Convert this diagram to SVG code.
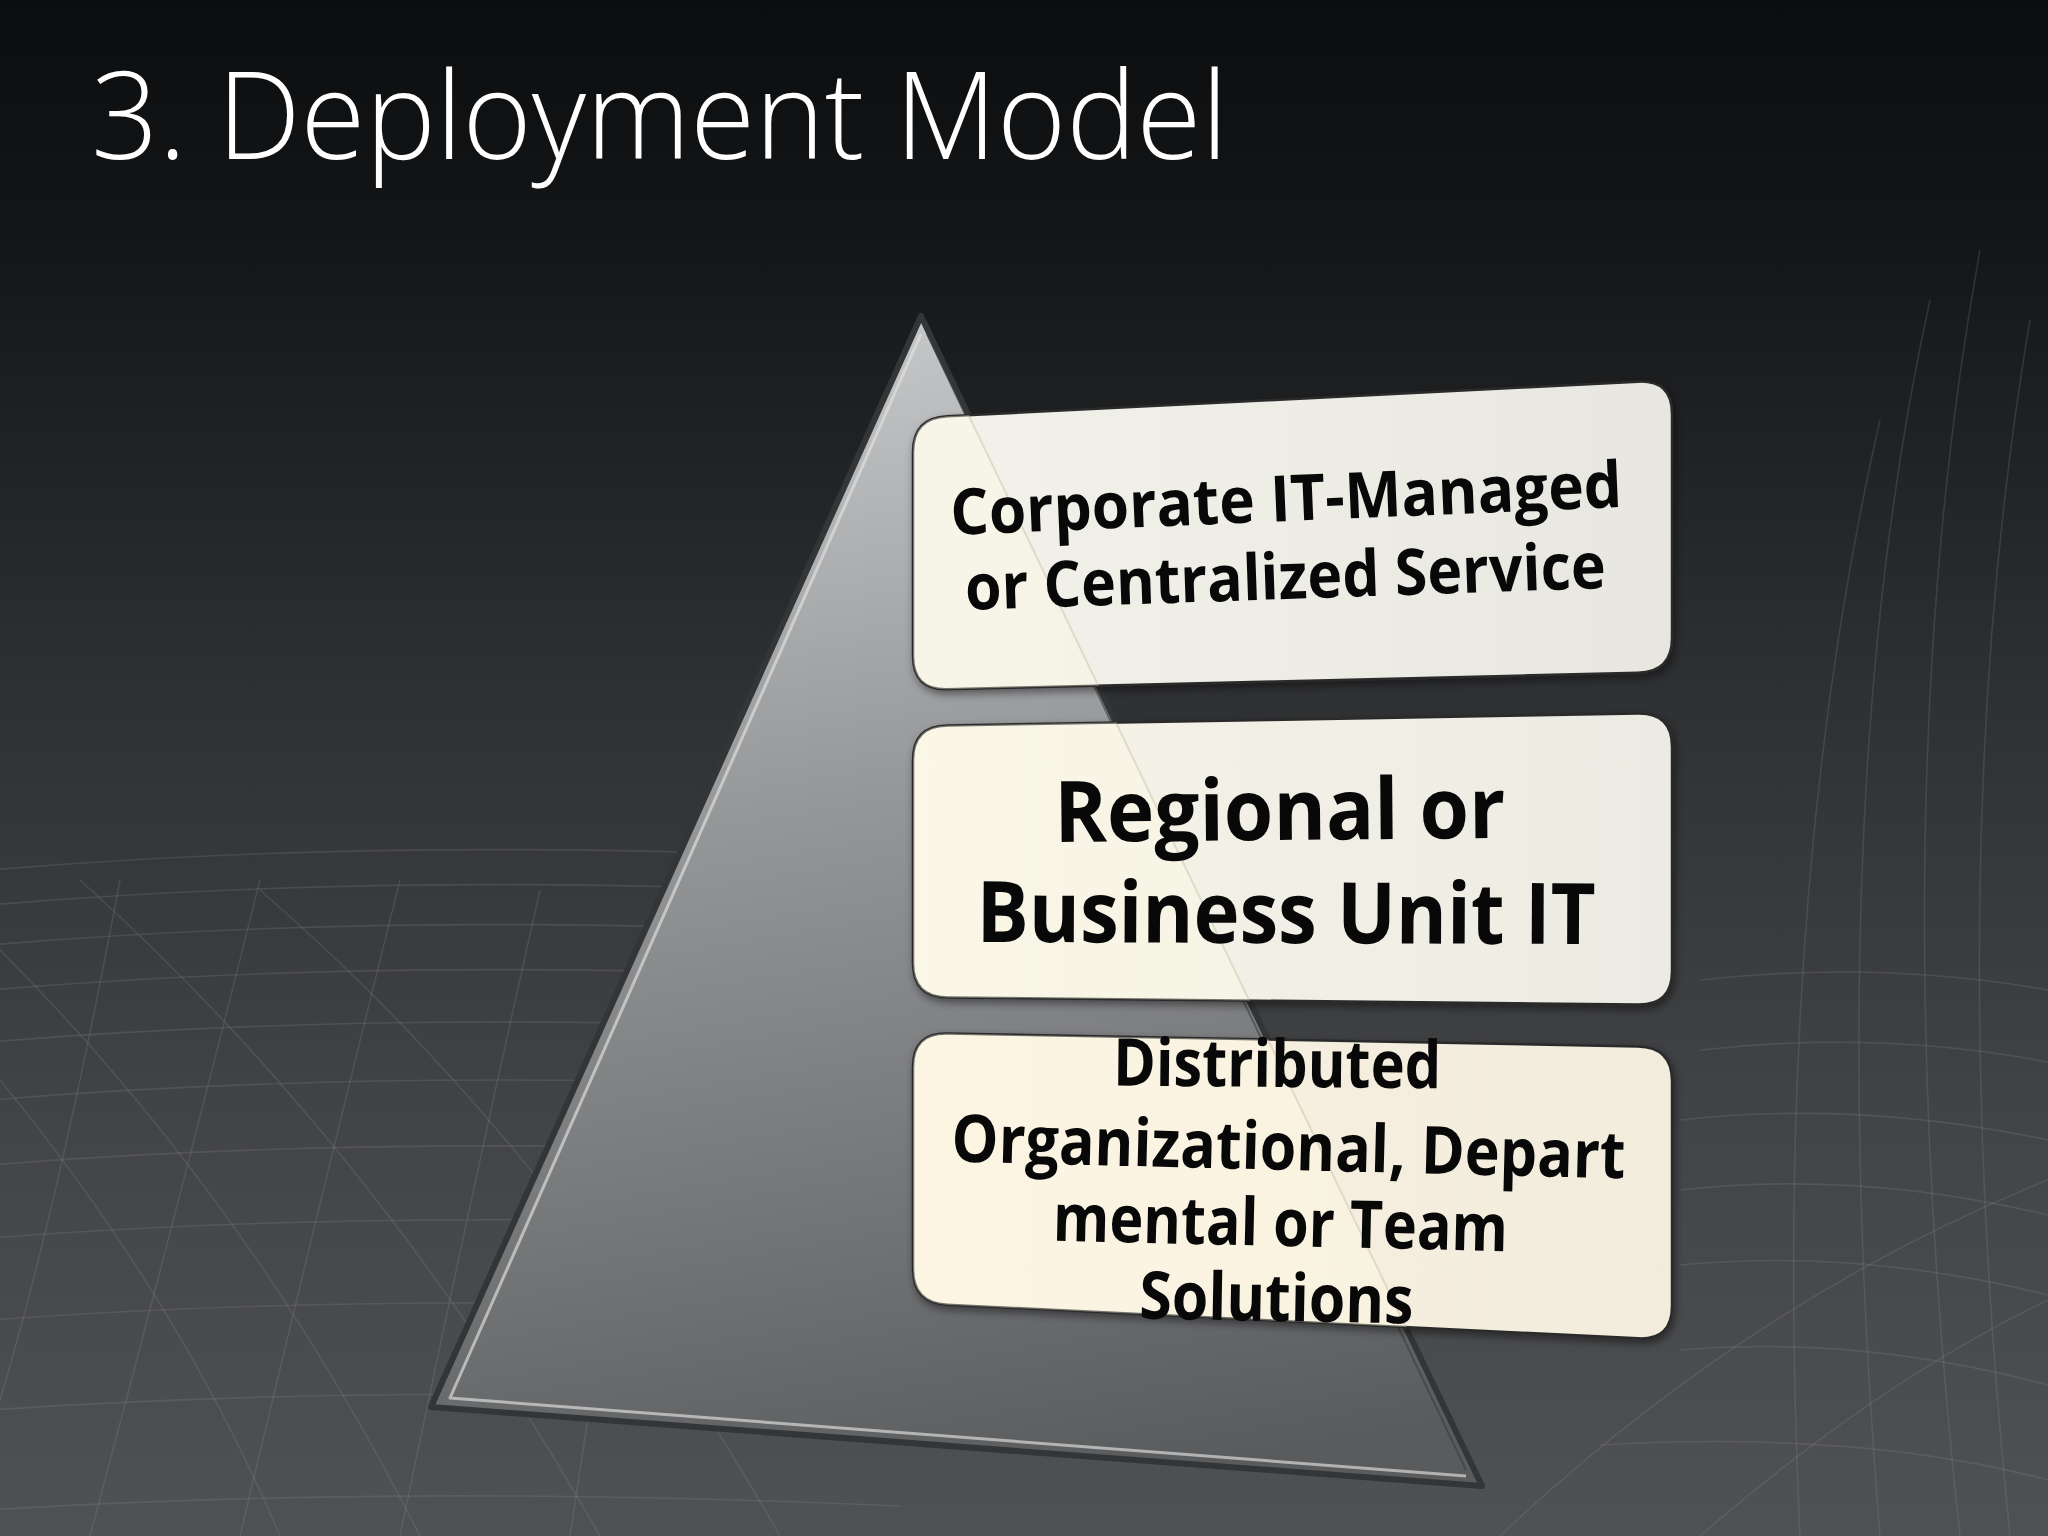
<svg xmlns="http://www.w3.org/2000/svg" width="2048" height="1536" viewBox="0 0 2048 1536">
<defs>
<linearGradient id="bg" x1="0" y1="0" x2="0" y2="1">
<stop offset="0" stop-color="#0c0d0e"/>
<stop offset="0.15" stop-color="#141516"/>
<stop offset="0.45" stop-color="#2f3032"/>
<stop offset="0.75" stop-color="#444547"/>
<stop offset="1" stop-color="#505153"/>
</linearGradient>
<linearGradient id="tri" x1="0.45" y1="0" x2="0.6" y2="1">
<stop offset="0" stop-color="#c6c7c9"/>
<stop offset="0.4" stop-color="#959698"/>
<stop offset="1" stop-color="#5a5b5d"/>
</linearGradient>
<linearGradient id="b1" x1="0" y1="0" x2="1" y2="0">
<stop offset="0" stop-color="#f3f2ea"/>
<stop offset="1" stop-color="#e7e6e0"/>
</linearGradient>
<linearGradient id="b2" x1="0" y1="0" x2="1" y2="0">
<stop offset="0" stop-color="#f7f4e8"/>
<stop offset="1" stop-color="#ecebe3"/>
</linearGradient>
<linearGradient id="b3" x1="0" y1="0" x2="1" y2="0">
<stop offset="0" stop-color="#fbf1e1"/>
<stop offset="1" stop-color="#f1ecdc"/>
</linearGradient>
<clipPath id="boxclip">
<path d="M 913,452 Q 913,418 947,416.3 L 1638,381.7 Q 1672,380 1672,414 L 1672,638 Q 1672,672 1638,672.8 L 947,689.2 Q 913,690 913,656 Z"/>
<path d="M 913,760 Q 913,726 947,725.4 L 1638,713.6 Q 1672,713 1672,747 L 1672,971 Q 1672,1005 1638,1004.6 L 947,997.4 Q 913,997 913,963 Z"/>
<path d="M 913,1067 Q 913,1033 947,1033.6 L 1638,1046.4 Q 1672,1047 1672,1081 L 1672,1306 Q 1672,1340 1638,1338.3 L 947,1304.7 Q 913,1303 913,1269 Z"/>
</clipPath>
<filter id="sh" x="-10%" y="-10%" width="120%" height="130%">
<feDropShadow dx="2" dy="4" stdDeviation="4" flood-color="#000" flood-opacity="0.45"/>
</filter>
</defs>
<style>
.mesh{fill:none;stroke:#8c8d8f;stroke-width:1.6;opacity:0.22}
.box{stroke:#2b2b2b;stroke-width:2.5}
.t{font-family:"Open Sans","Liberation Sans",sans-serif;font-weight:700;fill:#080808;text-anchor:middle}
.t1{font-size:64px}
.t2{font-size:85px}
.t3{font-size:66px}
</style>
<rect width="2048" height="1536" fill="url(#bg)"/>
<g id="mesh">
<path class="mesh" d="M -10,870 Q 400,835 900,860"/>
<path class="mesh" d="M -10,905 Q 400,870 900,895"/>
<path class="mesh" d="M -10,945 Q 400,910 900,935"/>
<path class="mesh" d="M -10,990 Q 400,955 900,980"/>
<path class="mesh" d="M -10,1042 Q 400,1008 900,1032"/>
<path class="mesh" d="M -10,1100 Q 400,1066 900,1090"/>
<path class="mesh" d="M -10,1165 Q 400,1132 900,1156"/>
<path class="mesh" d="M -10,1238 Q 400,1206 900,1230"/>
<path class="mesh" d="M -10,1320 Q 400,1290 900,1312"/>
<path class="mesh" d="M -10,1410 Q 400,1382 900,1404"/>
<path class="mesh" d="M -10,1510 Q 400,1484 900,1506"/>
<path class="mesh" d="M 120,880 Q 60,1200 0,1400"/>
<path class="mesh" d="M 260,880 Q 180,1200 90,1536"/>
<path class="mesh" d="M 400,880 Q 320,1200 240,1536"/>
<path class="mesh" d="M 540,890 Q 470,1200 400,1536"/>
<path class="mesh" d="M 680,900 Q 620,1200 570,1536"/>
<path class="mesh" d="M 0,950 Q 250,1200 420,1536"/>
<path class="mesh" d="M 0,1080 Q 180,1300 280,1536"/>
<path class="mesh" d="M 80,880 Q 380,1150 600,1536"/>
<path class="mesh" d="M 260,890 Q 560,1150 780,1536"/>
<path class="mesh" d="M 1980,250 Q 1880,800 1960,1536"/>
<path class="mesh" d="M 2030,320 Q 1940,850 2010,1536"/>
<path class="mesh" d="M 1930,300 Q 1820,800 1880,1536"/>
<path class="mesh" d="M 1880,420 Q 1770,900 1800,1536"/>
<path class="mesh" d="M 1680,1120 Q 1860,1100 2048,1140"/>
<path class="mesh" d="M 1680,1190 Q 1860,1170 2048,1215"/>
<path class="mesh" d="M 1680,1265 Q 1860,1248 2048,1295"/>
<path class="mesh" d="M 1680,1350 Q 1860,1335 2048,1385"/>
<path class="mesh" d="M 1600,1445 Q 1860,1430 2048,1480"/>
<path class="mesh" d="M 1700,980 Q 1880,960 2048,990"/>
<path class="mesh" d="M 1700,1050 Q 1880,1030 2048,1062"/>
<path class="mesh" d="M 1500,1536 Q 1750,1300 2048,1180"/>
<path class="mesh" d="M 1700,1536 Q 1880,1380 2048,1300"/>
</g>
<g id="pyramid">
<polygon points="921,316 431,1407 1482,1486" fill="url(#tri)" stroke="#343536" stroke-width="6" stroke-linejoin="round"/>
<polyline points="921,334 450,1398 1466,1476" fill="none" stroke="#e2e2e2" stroke-width="3" opacity="0.65" stroke-linejoin="round"/>
<line x1="927" y1="334" x2="1466" y2="1470" stroke="#3c3d3e" stroke-width="2" opacity="0.6"/>
</g>
<g id="connectors"></g>
<g id="node-corporate" filter="url(#sh)">
<path class="box" fill="url(#b1)" d="M 913,452 Q 913,418 947,416.3 L 1638,381.7 Q 1672,380 1672,414 L 1672,638 Q 1672,672 1638,672.8 L 947,689.2 Q 913,690 913,656 Z"/>
</g>
<g id="node-regional" filter="url(#sh)">
<path class="box" fill="url(#b2)" d="M 913,760 Q 913,726 947,725.4 L 1638,713.6 Q 1672,713 1672,747 L 1672,971 Q 1672,1005 1638,1004.6 L 947,997.4 Q 913,997 913,963 Z"/>
</g>
<g id="node-distributed" filter="url(#sh)">
<path class="box" fill="url(#b3)" d="M 913,1067 Q 913,1033 947,1033.6 L 1638,1046.4 Q 1672,1047 1672,1081 L 1672,1306 Q 1672,1340 1638,1338.3 L 947,1304.7 Q 913,1303 913,1269 Z"/>
</g>
<g id="reflection" clip-path="url(#boxclip)">
<polygon points="921,316 431,1407 1482,1486" fill="#fffbe6" opacity="0.35"/>
<line x1="921" y1="316" x2="1482" y2="1486" stroke="#b8b098" stroke-width="2" opacity="0.35"/>
</g>
<g id="labels">
<text class="t t1" x="1287" y="521" textLength="672" lengthAdjust="spacingAndGlyphs" transform="rotate(-2.39 1287 521)">Corporate IT-Managed</text>
<text class="t t1" x="1286" y="599" textLength="641" lengthAdjust="spacingAndGlyphs" transform="rotate(-1.97 1286 599)">or Centralized Service</text>
<text class="t t2" x="1280" y="840" textLength="451" lengthAdjust="spacingAndGlyphs" transform="rotate(-0.5 1280 840)">Regional or</text>
<text class="t t2" x="1286" y="943" textLength="619" lengthAdjust="spacingAndGlyphs" transform="rotate(0.2 1286 943)">Business Unit IT</text>
<text class="t t3" x="1277" y="1087" textLength="328" lengthAdjust="spacingAndGlyphs" transform="rotate(0.5 1277 1087)">Distributed</text>
<text class="t t3" x="1288" y="1170" textLength="674" lengthAdjust="spacingAndGlyphs" transform="rotate(1.44 1288 1170)">Organizational, Depart</text>
<text class="t t3" x="1280" y="1246" textLength="455" lengthAdjust="spacingAndGlyphs" transform="rotate(1.3 1280 1246)">mental or Team</text>
<text class="t t3" x="1276" y="1321" textLength="274" lengthAdjust="spacingAndGlyphs" transform="rotate(1 1276 1321)">Solutions</text>
</g>
<text id="title" x="91" y="159" font-family="Open Sans, Liberation Sans, sans-serif" font-weight="300" font-size="122" fill="#ffffff" textLength="1137" lengthAdjust="spacingAndGlyphs">3. Deployment Model</text>
</svg>
